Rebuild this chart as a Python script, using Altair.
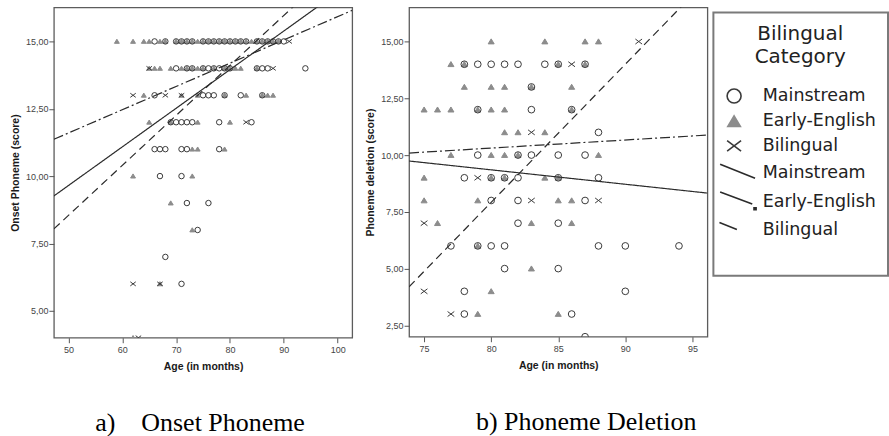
import altair as alt
import pandas as pd

GROUPS = ["Mainstream", "Early-English", "Bilingual"]

# ---------------- a) Onset Phoneme: score -> ages (months) ----------------
onset_mainstream = {
    15: [66, 68, 70, 71, 72, 73, 75, 76, 77, 78, 79, 80, 81, 82, 83, 85, 86, 87, 88, 89, 90],
    14: [70, 72, 73, 75, 76, 77, 78, 79, 80, 85, 86, 87, 94],
    13: [66, 75, 76, 77, 79, 82, 86],
    12: [69, 70, 71, 72, 73, 78, 84],
    11: [66, 67, 68, 71, 72, 78],
    10: [67, 71],
    9: [72, 76],
    8: [74],
    7: [68],
    6: [71],
}
onset_early = {
    15: [59, 62, 64, 65, 67, 68, 70, 71, 72, 73, 74, 75, 76, 77, 78, 79, 80, 81, 82, 83, 84,
         85, 86, 87, 88, 89],
    14: [65, 66, 67, 69, 71, 72, 73, 74, 75, 77, 79, 80, 81, 82, 85],
    13: [64, 71, 74, 79, 83, 86, 87, 88],
    12: [65, 69, 74, 80],
    11: [73, 74, 79],
    10: [62, 73],
    9: [69],
    8: [73],
    6: [67],
    4: [62],
}
onset_bilingual = {
    15: [91],
    14: [65, 88],
    13: [62, 68, 71],
    12: [83],
    6: [62, 67],
    4: [63],
}
# linear fits: (intercept, slope per month)
onset_fits = {
    "Mainstream": (2.48, 0.1434),
    "Early-English": (-0.74, 0.1856),
    "Bilingual": (7.28, 0.0864),
}

# ---------------- b) Phoneme Deletion: score -> ages (months) ----------------
deletion_mainstream = {
    14: [78, 79, 80, 81, 82, 84, 85, 87],
    13: [83],
    12: [79, 83, 86],
    11: [88],
    10: [79, 82, 83, 85, 87],
    9: [78, 80, 81, 82, 85, 88],
    8: [80, 82, 87],
    7: [82, 85],
    6: [77, 79, 80, 81, 88, 90, 94],
    5: [81, 85],
    4: [78, 90],
    3: [78, 86],
    2: [87],
}
deletion_early = {
    15: [80, 84, 87, 88],
    14: [77, 78, 85, 87],
    13: [78, 80, 81, 83, 86],
    12: [75, 76, 77, 79, 80, 81, 86],
    11: [81, 82, 84],
    10: [77, 80, 81, 82, 88],
    9: [75, 80, 81, 84, 85],
    8: [75, 79, 85, 86],
    7: [76, 83, 86],
    6: [79],
    5: [83],
    4: [80],
    3: [79, 85],
}
deletion_bilingual = {
    15: [91],
    14: [86],
    11: [83],
    9: [79],
    8: [83, 88],
    7: [75],
    4: [75],
    3: [77],
}
deletion_fits = {
    "Mainstream": (14.43, -0.0635),
    "Early-English": (-40.72, 0.608),
    "Bilingual": (7.46, 0.0356),
}

# ---------------- legend / marker styling ----------------
X_PATH = "M-1,-0.75L1,0.75M-1,0.75L1,-0.75"
TRI_PATH = "M0,-0.8L0.9,0.7L-0.9,0.7Z"
legend_keys = ["Mainstream|pt", "Early-English|pt", "Bilingual|pt",
               "Mainstream|fit", "Early-English|fit", "Bilingual|fit", "|"]
legend_shapes = ["circle", TRI_PATH, X_PATH,
                 "M-2,-1.3L3,0.7",
                 "M-2,-1.4L2.6,0.3M2.85,0.85h0.3v0.3h-0.3Z",
                 "M-2.1,-1.1L0.4,-0.1",
                 "M0,0"]
legend_fills = ["transparent", "#8c8c8c", "transparent", "#2b2b2b", "#2b2b2b", "#2b2b2b", "transparent"]
legend_strokes = ["#3a3a3a", "#8c8c8c", "#3a3a3a", "#2b2b2b", "#2b2b2b", "#2b2b2b", "transparent"]
fit_dashes = [[1, 0], [8, 5], [10, 3, 2, 3]]


def point_rows(tables):
    rows = []
    # triangles first, then circles, then crosses
    for group in ["Early-English", "Mainstream", "Bilingual"]:
        for score, ages in tables[group].items():
            for age in ages:
                rows.append({"key": group + "|pt", "age": age, "score": score})
    return pd.DataFrame(rows)


def fit_rows(fits, x_dom):
    rows = []
    for group, (a, b) in fits.items():
        for age in x_dom:
            rows.append({"group": group, "age": age, "score": a + b * age})
    return pd.DataFrame(rows)


legend_def = alt.Legend(title=["Bilingual", "Category"], labelExpr="split(datum.label, '|')[0]")
label_expr_y = "replace(format(datum.value, '.2f'), '.', ',')"


def panel(tables, fits, x_dom, y_dom, x_ticks, y_ticks, y_title, caption, cap_dx, pt_size, w, h):
    x_enc = alt.X("age:Q", scale=alt.Scale(domain=x_dom, nice=False, zero=False),
                  axis=alt.Axis(values=x_ticks, title="Age (in months)", format="d"))
    y_enc = alt.Y("score:Q", scale=alt.Scale(domain=y_dom, nice=False, zero=False),
                  axis=alt.Axis(values=y_ticks, title=y_title, labelExpr=label_expr_y))
    pts = alt.Chart(point_rows(tables)).mark_point(
        filled=True, size=pt_size, strokeWidth=1, opacity=1, clip=True
    ).encode(
        x=x_enc, y=y_enc,
        shape=alt.Shape("key:N", scale=alt.Scale(domain=legend_keys, range=legend_shapes), legend=legend_def),
        fill=alt.Fill("key:N", scale=alt.Scale(domain=legend_keys, range=legend_fills), legend=legend_def),
        stroke=alt.Stroke("key:N", scale=alt.Scale(domain=legend_keys, range=legend_strokes), legend=legend_def),
    )
    lines = alt.Chart(fit_rows(fits, x_dom)).mark_line(
        color="#2b2b2b", strokeWidth=1.2, clip=True
    ).encode(
        x=x_enc, y=y_enc,
        strokeDash=alt.StrokeDash("group:N", scale=alt.Scale(domain=GROUPS, range=fit_dashes), legend=None),
    )
    return alt.layer(pts, lines).properties(
        width=w, height=h,
        title=alt.Title(caption, orient="bottom", anchor="middle", frame="group",
                        font="Liberation Serif", fontSize=26, fontWeight="normal",
                        color="black", offset=38, dx=cap_dx),
    )


tables_a = {"Mainstream": onset_mainstream, "Early-English": onset_early, "Bilingual": onset_bilingual}
tables_b = {"Mainstream": deletion_mainstream, "Early-English": deletion_early, "Bilingual": deletion_bilingual}

panel_a = panel(tables_a, onset_fits, [47.3, 102.7], [4.0, 16.26],
                [50, 60, 70, 80, 90, 100], [5, 7.5, 10, 12.5, 15],
                "Onset Phoneme (score)", "a)\u00a0\u00a0\u00a0\u00a0Onset Phoneme", -3, 30, 299, 331)
panel_b = panel(tables_b, deletion_fits, [73.88, 96.12], [2.0, 16.5],
                [75, 80, 85, 90, 95], [2.5, 5, 7.5, 10, 12.5, 15],
                "Phoneme deletion (score)", "b) Phoneme Deletion", 28, 45, 299, 330)

chart = alt.hconcat(panel_a, panel_b, spacing=11).properties(
    padding={"left": 9, "top": 6, "right": 0, "bottom": 0}
).configure_view(
    stroke="#5c5c5c", strokeWidth=1.3
).configure_axis(
    domain=False, grid=False, ticks=True, tickSize=5, tickColor="#555555", tickWidth=1,
    labelFont="Liberation Sans", labelFontSize=9, labelColor="#444444",
    titleFont="Liberation Sans", titleFontSize=10.5, titleFontWeight="bold", titleColor="#1a1a1a",
).configure_axisY(
    labelPadding=1, titlePadding=5
).configure_axisX(
    labelPadding=3, titlePadding=7
).configure_legend(
    orient="none", legendX=661, legendY=5,
    strokeColor="#7a7a7a", strokeWidth=2, fillColor="white", padding=12,
    symbolSize=196, symbolStrokeWidth=1.6, symbolType="circle",
    labelFont="DejaVu Sans", labelFontSize=17.5, labelColor="#222222", labelOffset=20,
    titleFont="DejaVu Sans", titleFontSize=20, titleFontWeight="normal", titleColor="#222222",
    titleLineHeight=23, titleAnchor="middle", titlePadding=20, rowPadding=5.5,
)

chart.save("out.html", embed_options={"renderer": "svg", "actions": False})
